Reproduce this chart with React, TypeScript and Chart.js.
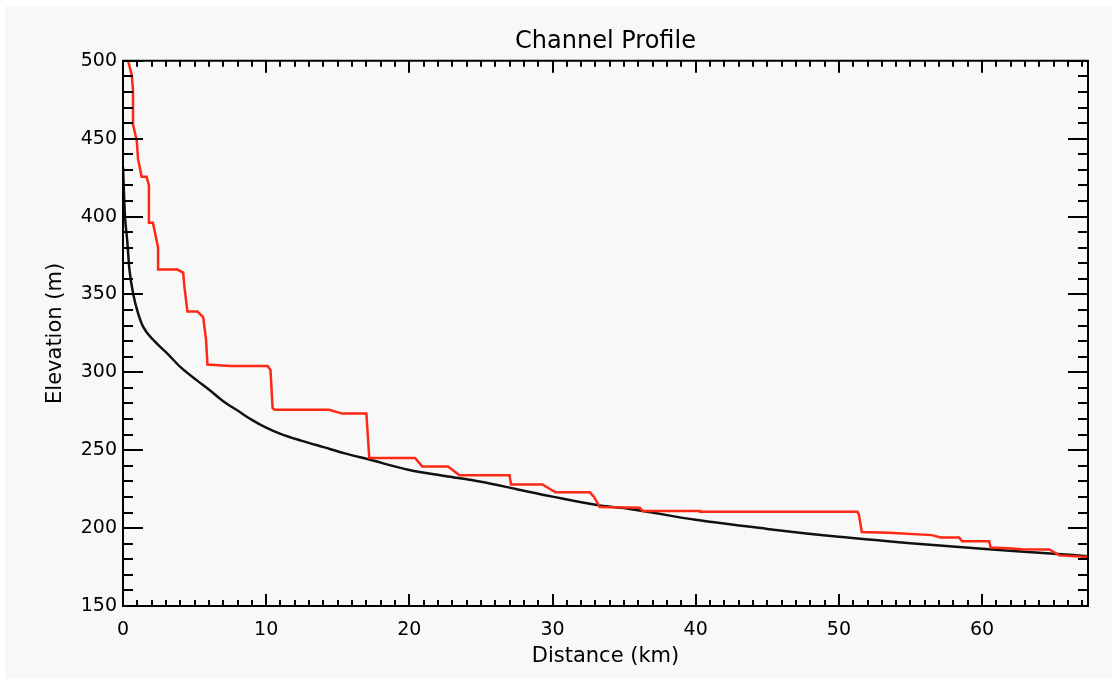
import React, { useEffect, useRef } from "react";
import { Chart, registerables } from "chart.js";

Chart.register(...registerables);

// ---- data ----
const xTickValues = [0, 10, 20, 30, 40, 50, 60];
const yTickValues = [150, 200, 250, 300, 350, 400, 450, 500];

// smooth profile (black)
const distanceBlack = [
  0.0, 0.08, 0.14, 0.3, 0.45, 0.72, 1.05, 1.42, 2.2, 3.05, 4.0, 5.14, 6, 7, 8, 9, 10, 11,
  12.5, 14, 15.5, 17.2, 20, 22.5, 25, 27.5, 30, 33.3, 35.4, 40, 45, 50, 55, 60, 64, 67.4,
];
const elevationBlack = [
  432, 412, 400, 384, 366, 350, 338, 329, 320, 312.5, 303.5, 295, 289, 281.5, 275.5, 269.5, 264.5, 260.5,
  256, 252, 248, 244, 237.3, 233.5, 229.8, 225, 220.2, 214.5, 212.3, 205.3, 199.5, 194.4, 190.3, 186.7, 184.2, 182,
];

// stepped profile (red)
const distanceRed = [
  0.35, 0.61, 0.7, 0.7, 0.96, 1.05, 1.3, 1.65, 1.81, 1.81, 2.09, 2.23, 2.45, 2.45, 3.8, 4.2, 4.3, 4.5,
  5.2, 5.6, 5.8, 5.9, 7.5, 10.1, 10.3, 10.45, 10.6, 14.4, 15.3, 17.0, 17.2, 20.4, 20.9, 22.7, 23.5, 27,
  27.1, 29.3, 30.2, 32.6, 32.9, 33.3, 36.1, 36.3, 40.3, 40.3, 51.3, 51.4, 51.6, 53.5, 56.5, 57.1, 58.4,
  58.6, 60.5, 60.6, 61.8, 62.8, 64.7, 65.4, 67.4,
];
const elevationRed = [
  500, 491, 481, 459, 449, 437, 425.5, 425.5, 420, 396, 396, 390, 380, 366, 366, 364, 354, 339,
  339, 335.5, 321, 305, 304, 304, 301.5, 277, 276, 276, 273.5, 273.5, 245, 245, 239.5, 239.5, 234, 234,
  228, 228, 223, 223, 220, 213.5, 213, 211, 211, 210.5, 210.5, 208.5, 197.5, 197, 195.5, 194, 194,
  191.5, 191.5, 187.5, 187, 186.5, 186.3, 182.5, 181.5,
];

const X_MIN = 0;
const X_MAX = 67.4;
const Y_MIN = 150;
const Y_MAX = 500;

const FONT = "'DejaVu Sans', 'Liberation Sans', sans-serif";

const toPoints = (xs: number[], ys: number[]) => xs.map((x, i) => ({ x, y: ys[i] }));

const backgroundPlugin = {
  id: "bg",
  beforeDraw(chart: any) {
    const { ctx, width, height } = chart;
    ctx.save();
    ctx.fillStyle = "#ffffff";
    ctx.fillRect(0, 0, width, height);
    ctx.fillStyle = "#f8f8f8";
    ctx.fillRect(5, 6, width - 5, height - 6);
    ctx.restore();
  },
};

const framePlugin = {
  id: "frame",
  afterDatasetsDraw(chart: any) {
    const { ctx, chartArea, scales } = chart;
    const { left, right, top, bottom } = chartArea;
    const xs = scales.x;
    const ys = scales.y;
    ctx.save();
    ctx.strokeStyle = "#000";
    ctx.lineWidth = 2;
    ctx.beginPath();
    ctx.rect(left, top, right - left, bottom - top);
    for (let v = Math.ceil(X_MIN); v <= X_MAX; v += 1) {
      const px = Math.round(xs.getPixelForValue(v));
      const len = v % 10 === 0 ? 12 : 6;
      ctx.moveTo(px, bottom);
      ctx.lineTo(px, bottom - len);
      ctx.moveTo(px, top);
      ctx.lineTo(px, top + len);
    }
    for (let v = Y_MIN; v <= Y_MAX; v += 10) {
      const py = Math.round(ys.getPixelForValue(v));
      const len = v % 50 === 0 ? 20 : 10;
      ctx.moveTo(left, py);
      ctx.lineTo(left + len, py);
      ctx.moveTo(right, py);
      ctx.lineTo(right - len, py);
    }
    ctx.stroke();
    ctx.restore();
  },
};

export default function App() {
  const canvasRef = useRef<HTMLCanvasElement | null>(null);

  useEffect(() => {
    document.body.style.margin = "0";
    const canvas = canvasRef.current;
    if (!canvas) return;
    const chart = new Chart(canvas, {
      type: "line",
      data: {
        datasets: [
          {
            label: "Channel",
            data: toPoints(distanceRed, elevationRed),
            borderColor: "rgb(255,40,20)",
            borderWidth: 2.5,
            pointRadius: 0,
            tension: 0,
            fill: false,
          },
          {
            label: "Smoothed",
            data: toPoints(distanceBlack, elevationBlack),
            borderColor: "#111111",
            borderWidth: 2.5,
            pointRadius: 0,
            cubicInterpolationMode: "monotone",
            fill: false,
          },
        ],
      },
      options: {
        animation: false,
        responsive: false,
        layout: { padding: { left: 0, right: 24, top: 0, bottom: 0 } },
        plugins: {
          legend: { display: false },
          tooltip: { enabled: false },
          title: {
            display: true,
            text: "Channel Profile",
            fullSize: false,
            color: "#000",
            font: { family: FONT, size: 24, weight: "normal" },
            padding: { top: 27, bottom: 5 },
          },
        },
        scales: {
          x: {
            type: "linear",
            min: X_MIN,
            max: X_MAX,
            grid: { display: false, drawTicks: false },
            border: { display: false },
            afterBuildTicks: (scale: any) => {
              scale.ticks = xTickValues.map((v) => ({ value: v }));
            },
            afterFit: (scale: any) => {
              scale.height = 73;
            },
            ticks: {
              color: "#000",
              padding: 13,
              maxRotation: 0,
              autoSkip: false,
              font: { family: FONT, size: 19 },
            },
            title: {
              display: true,
              text: "Distance (km)",
              color: "#000",
              font: { family: FONT, size: 21 },
              padding: { top: 0, bottom: 10 },
            },
          },
          y: {
            type: "linear",
            min: Y_MIN,
            max: Y_MAX,
            grid: { display: false, drawTicks: false },
            border: { display: false },
            afterBuildTicks: (scale: any) => {
              scale.ticks = yTickValues.map((v) => ({ value: v }));
            },
            afterFit: (scale: any) => {
              scale.width = 123;
            },
            ticks: {
              color: "#000",
              padding: 6,
              autoSkip: false,
              font: { family: FONT, size: 19 },
            },
            title: {
              display: true,
              text: "Elevation (m)",
              color: "#000",
              font: { family: FONT, size: 21 },
              padding: { top: 43, bottom: 0 },
            },
          },
        },
      },
      plugins: [backgroundPlugin, framePlugin],
    });
    return () => chart.destroy();
  }, []);

  return (
    <div style={{ position: "fixed", left: 0, top: 0, width: 1112, height: 679 }}>
      <canvas ref={canvasRef} width={1112} height={679} style={{ display: "block" }} />
    </div>
  );
}
